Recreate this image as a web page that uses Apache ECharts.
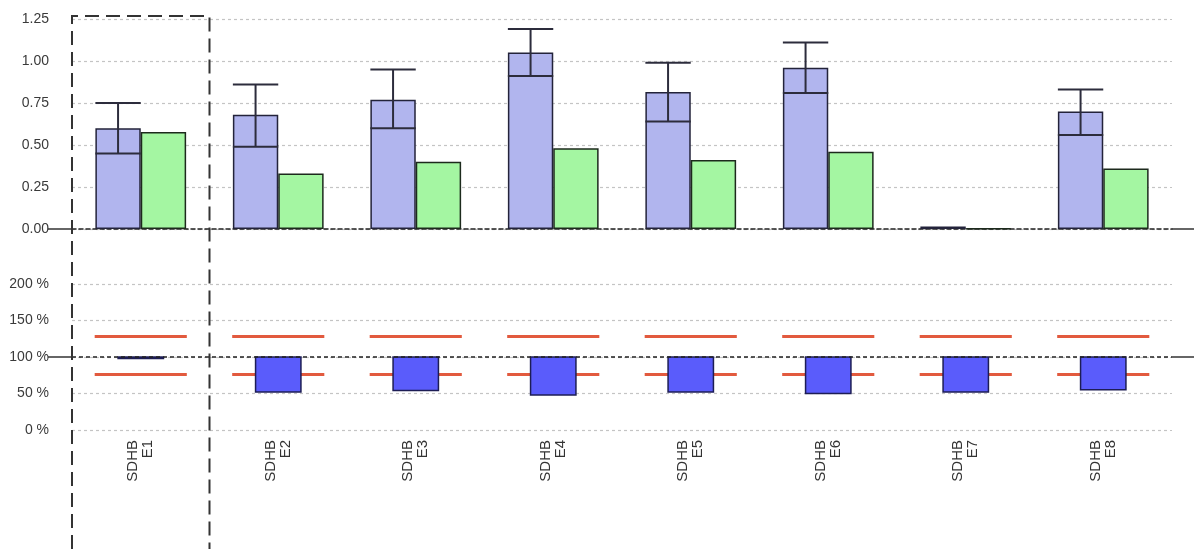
<!DOCTYPE html>
<html>
<head>
<meta charset="utf-8">
<script src="https://cdn.jsdelivr.net/npm/echarts@6/dist/echarts.min.js"></script>
<style>
  html, body { margin: 0; padding: 0; background: #fff; }
  #chart { width: 1194px; height: 549px; }
</style>
</head>
<body>
<div id="chart"></div>
<script>
// Samples
const categories = ['SDHB\nE1', 'SDHB\nE2', 'SDHB\nE3', 'SDHB\nE4', 'SDHB\nE5', 'SDHB\nE6', 'SDHB\nE7', 'SDHB\nE8'];

// Upper panel: measured level (blue) with its low/high range, reference level (green)
const measured = [0.60, 0.68, 0.77, 1.05, 0.815, 0.96, 0.015, 0.70];
const measuredLow = [0.45, 0.49, 0.60, 0.91, 0.64, 0.81, null, 0.56];
const measuredHigh = [0.75, 0.86, 0.95, 1.19, 0.99, 1.11, null, 0.83];
const reference = [0.577, 0.33, 0.40, 0.48, 0.41, 0.46, 0.004, 0.36];

// Lower panel: ratio in percent, drawn as a box hanging from 100 %
const ratio = [98, 52, 54, 48, 52, 50, 52, 55];
const limitHigh = [128, 128, 128, 128, 128, 128, 128, 128];
const limitLow = [76, 76, 76, 76, 76, 76, 76, 76];

const topTicks = { min: 0, max: 1.25, interval: 0.25 };
const bottomTicks = { min: 0, max: 200, interval: 50 };

const FONT = '"Liberation Sans", Arial, sans-serif';
const BAR_FRAC = 0.33;

const chart = echarts.init(document.getElementById('chart'), null, { renderer: 'canvas' });

const gridLine = { show: true, lineStyle: { color: '#c4c4c4', type: [3, 3], width: 1.2 } };
const yLabel = { color: '#3a3a3a', fontSize: 14, fontFamily: FONT, margin: 23 };

const option = {
  animation: false,
  backgroundColor: '#fff',
  grid: [
    { left: 72, right: 22, top: 19, height: 210 },
    { left: 72, right: 22, top: 284, height: 146 }
  ],
  xAxis: [
    {
      type: 'category', gridIndex: 0, data: categories,
      axisLine: { show: true, lineStyle: { color: '#222', type: [4, 3], width: 1.5 } },
      axisTick: { show: false }, axisLabel: { show: false }, splitLine: { show: false }
    },
    {
      type: 'category', gridIndex: 1, data: categories,
      axisLine: { show: false }, axisTick: { show: false }, splitLine: { show: false },
      axisLabel: {
        rotate: 90, margin: 10, interval: 0,
        color: '#333', fontSize: 15, lineHeight: 15, fontFamily: FONT
      }
    }
  ],
  yAxis: [
    {
      type: 'value', gridIndex: 0, min: topTicks.min, max: topTicks.max, interval: topTicks.interval,
      axisLine: { show: false }, axisTick: { show: false }, splitLine: gridLine,
      axisLabel: Object.assign({}, yLabel, { formatter: v => v.toFixed(2) })
    },
    {
      type: 'value', gridIndex: 1, min: bottomTicks.min, max: bottomTicks.max, interval: bottomTicks.interval,
      axisLine: { show: false }, axisTick: { show: false }, splitLine: gridLine,
      axisLabel: Object.assign({}, yLabel, { formatter: v => v + ' %' })
    }
  ],
  series: [
    {
      name: 'Measured', type: 'bar', xAxisIndex: 0, yAxisIndex: 0,
      data: measured, barWidth: (BAR_FRAC * 100) + '%', barGap: '0%',
      itemStyle: { color: '#b1b5ee', borderColor: '#23233a', borderWidth: 1.5 }
    },
    {
      name: 'Reference', type: 'bar', xAxisIndex: 0, yAxisIndex: 0,
      data: reference, barWidth: (BAR_FRAC * 100) + '%',
      itemStyle: { color: '#a4f6a2', borderColor: '#1d2a1d', borderWidth: 1.5 }
    },
    {
      // low marker, whisker and cap over each blue bar
      name: 'Range', type: 'custom', xAxisIndex: 0, yAxisIndex: 0, z: 5,
      data: categories.map((c, i) => [i, measuredLow[i], measuredHigh[i]]),
      renderItem: function (params, api) {
        const lo = api.value(1), hi = api.value(2);
        if (lo == null || hi == null || isNaN(lo) || isNaN(hi)) return null;
        const band = api.size([1, 0])[0];
        const w = band * BAR_FRAC;
        const pLo = api.coord([api.value(0), lo]);
        const pHi = api.coord([api.value(0), hi]);
        const x1 = pLo[0] - w, x2 = pLo[0], xm = pLo[0] - w / 2;
        const style = { stroke: '#2c2c3c', lineWidth: 2 };
        return {
          type: 'group',
          children: [
            { type: 'line', shape: { x1: x1, y1: pLo[1], x2: x2, y2: pLo[1] }, style: style },
            { type: 'line', shape: { x1: xm, y1: pLo[1], x2: xm, y2: pHi[1] }, style: style },
            { type: 'line', shape: { x1: x1, y1: pHi[1], x2: x2, y2: pHi[1] }, style: style }
          ]
        };
      }
    },
    {
      // acceptance limits
      name: 'Limits', type: 'custom', xAxisIndex: 1, yAxisIndex: 1, z: 3,
      data: categories.map((c, i) => [i, limitHigh[i], limitLow[i]]),
      renderItem: function (params, api) {
        const band = api.size([1, 0])[0];
        const half = band * 0.335;
        const pH = api.coord([api.value(0), api.value(1)]);
        const pL = api.coord([api.value(0), api.value(2)]);
        const style = { stroke: '#e25a3e', lineWidth: 3 };
        return {
          type: 'group',
          children: [
            { type: 'line', shape: { x1: pH[0] - half, y1: pH[1], x2: pH[0] + half, y2: pH[1] }, style: style },
            { type: 'line', shape: { x1: pL[0] - half, y1: pL[1], x2: pL[0] + half, y2: pL[1] }, style: style }
          ]
        };
      },
      markLine: {
        silent: true, symbol: 'none', label: { show: false },
        lineStyle: { color: '#222', type: [4, 3], width: 1.5 },
        data: [{ yAxis: 100 }]
      }
    },
    {
      // ratio box from 100 % down to the value
      name: 'Ratio', type: 'custom', xAxisIndex: 1, yAxisIndex: 1, z: 4,
      data: categories.map((c, i) => [i, ratio[i]]),
      renderItem: function (params, api) {
        const band = api.size([1, 0])[0];
        const w = band * BAR_FRAC;
        const pTop = api.coord([api.value(0), 100]);
        const pVal = api.coord([api.value(0), api.value(1)]);
        return {
          type: 'rect',
          shape: { x: pTop[0] - w / 2, y: pTop[1], width: w, height: Math.max(pVal[1] - pTop[1], 1) },
          style: { fill: '#5a5cfb', stroke: '#1d1d55', lineWidth: 1.5 }
        };
      }
    }
  ]
};

chart.setOption(option);

// Axis extensions outside the plot and the dashed frame around the first sample
function addDecorations() {
  const grid0 = chart.getModel().getComponent('grid', 0).coordinateSystem.getRect();
  const y0 = chart.convertToPixel({ yAxisIndex: 0 }, 0);
  const y100 = chart.convertToPixel({ yAxisIndex: 1 }, 100);
  const yTop = chart.convertToPixel({ yAxisIndex: 0 }, topTicks.max);
  const cx = chart.convertToPixel({ xAxisIndex: 0 }, 0);
  const band = grid0.width / categories.length;
  const left = grid0.x, right = grid0.x + grid0.width;
  const solid = { stroke: '#333', lineWidth: 1.5 };
  const frame = { stroke: '#333', lineWidth: 2, lineDash: [14, 7], fill: null };
  const fx1 = cx - band / 2, fx2 = cx + band / 2, fy = yTop - 3;
  chart.setOption({
    graphic: [
      { type: 'line', silent: true, z: 10, shape: { x1: left - 24, y1: y0, x2: left, y2: y0 }, style: solid },
      { type: 'line', silent: true, z: 10, shape: { x1: right, y1: y0, x2: 1194, y2: y0 }, style: solid },
      { type: 'line', silent: true, z: 10, shape: { x1: left - 24, y1: y100, x2: left, y2: y100 }, style: solid },
      { type: 'line', silent: true, z: 10, shape: { x1: right, y1: y100, x2: 1194, y2: y100 }, style: solid },
      {
        type: 'polyline', silent: true, z: 10,
        shape: { points: [[fx1, 549], [fx1, fy], [fx2, fy], [fx2, 549]] },
        style: frame
      }
    ]
  });
}
addDecorations();
</script>
</body>
</html>
